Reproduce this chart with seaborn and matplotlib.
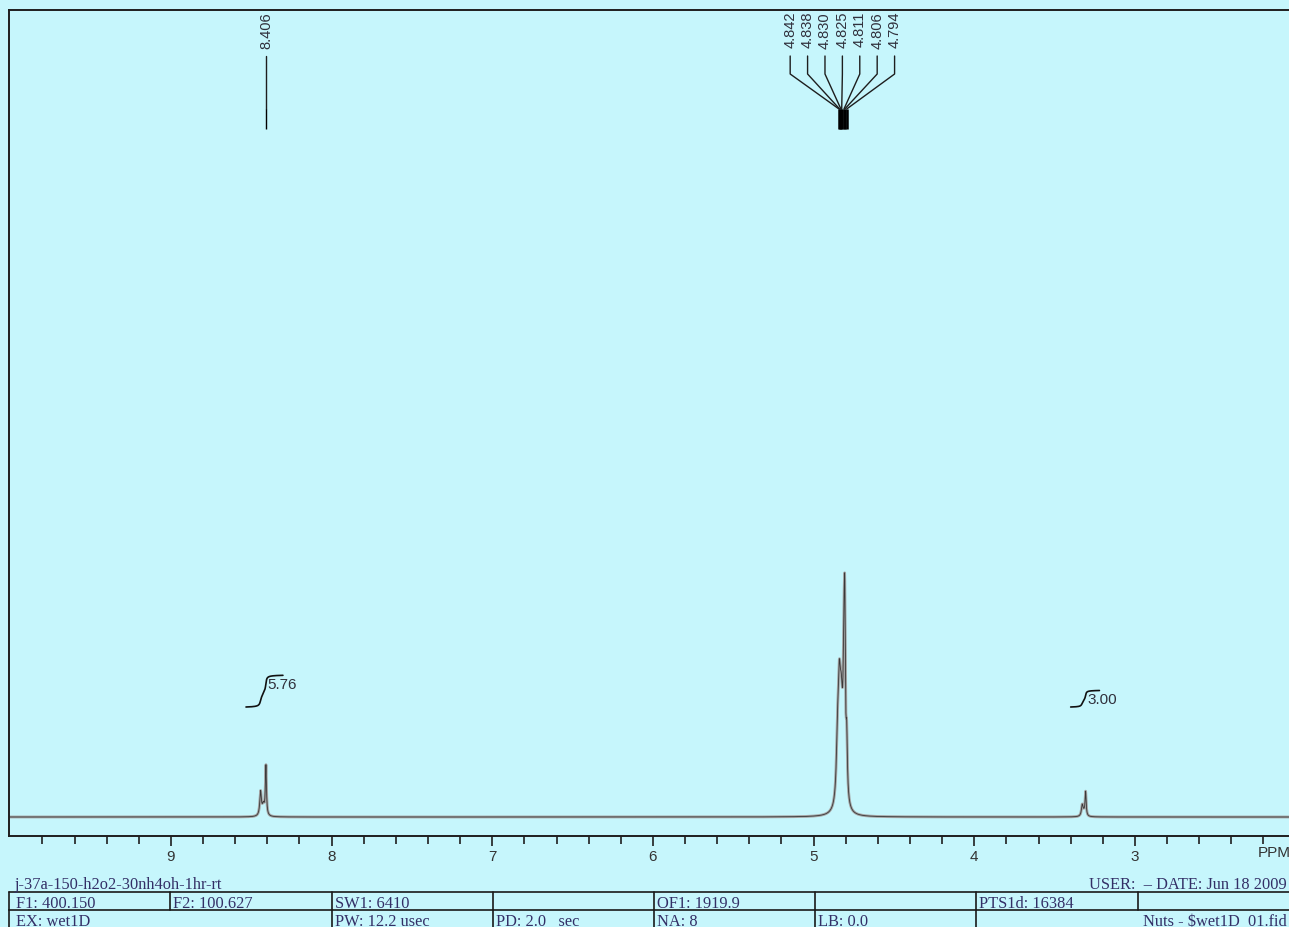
import numpy as np
import pandas as pd
import matplotlib
matplotlib.use("Agg")
import matplotlib.pyplot as plt
import matplotlib.transforms as mtransforms
from matplotlib.lines import Line2D
from matplotlib.ticker import FixedLocator
import seaborn as sns

# ---- acquisition parameters -------------------------------------------------
sample_name = "j-37a-150-h2o2-30nh4oh-1hr-rt"
f1_mhz = 400.150
f2_mhz = 100.627
sw1_hz = 6410
of1_hz = 1919.9
pts1d = 16384
experiment = "wet1D"
pw_usec = 12.2
pd_sec = 2.0
na_scans = 8
lb_hz = 0.0
user_date = "USER:  \u2013 DATE: Jun 18 2009"
file_label = "Nuts - $wet1D_01.fid"

# ---- resolved lines: position (ppm), height (a.u.), half width (ppm) --------
line_ppm = [8.442, 8.425, 8.409,
            4.852, 4.842, 4.838, 4.830, 4.825, 4.811, 4.806, 4.794,
            3.328, 3.318, 3.307]
line_height = [24, 10, 50,
               40, 78, 38, 40, 42, 135, 122, 55,
               11, 3, 24]
line_hwhm = [0.006, 0.008, 0.004,
             0.008, 0.010, 0.008, 0.008, 0.008, 0.007, 0.004, 0.005,
             0.006, 0.008, 0.004]

# ---- picked peaks (one list per label group) --------------------------------
picked_groups = [[8.406],
                 [4.842, 4.838, 4.830, 4.825, 4.811, 4.806, 4.794]]

# ---- integrals ----------------------------------------------------------------
integral_values = [5.76, 3.00]
integral_start = [8.533, 3.40]
integral_end = [8.303, 3.22]

# ---- axis ticks ----------------------------------------------------------------
major_ticks = [9, 8, 7, 6, 5, 4, 3]
minor_ticks = [9.8, 9.6, 9.4, 9.2, 8.8, 8.6, 8.4, 8.2, 7.8, 7.6, 7.4, 7.2,
               6.8, 6.6, 6.4, 6.2, 5.8, 5.6, 5.4, 5.2, 4.8, 4.6, 4.4, 4.2,
               3.8, 3.6, 3.4, 3.2, 2.8, 2.6, 2.4, 2.2]

# ---- build the frequency axis and the spectrum --------------------------------
center_ppm = of1_hz / f1_mhz
sw_ppm = sw1_hz / f1_mhz
ppm = center_ppm + sw_ppm / 2 - np.arange(pts1d) * sw_ppm / pts1d
spec = np.zeros_like(ppm)
for p0, h, w in zip(line_ppm, line_height, line_hwhm):
    spec += h / (1.0 + ((ppm - p0) / w) ** 2)
df = pd.DataFrame({"ppm": ppm, "intensity": spec})

# ---- style -----------------------------------------------------------------------
BG = "#C6F6FC"
INK = "#1e1e1e"
LABEL = "#30303c"
NAVY = "#332f66"
sns.set_theme(style="white")
plt.rcParams["font.family"] = ["Liberation Sans", "DejaVu Sans"]

W, H = 1289, 928
fig = plt.figure(figsize=(W / 100, H / 100), dpi=100, facecolor=BG)


def fx(px):
    return px / W


def fy(px):
    return 1 - px / H


ax = fig.add_axes([fx(9), fy(837), (W - 9) / W, (837 - 11) / H])
ax.set_facecolor(BG)

sns.lineplot(data=df, x="ppm", y="intensity", ax=ax, color="#a4a4a4",
             lw=2.0, estimator=None, sort=False)
sns.lineplot(data=df, x="ppm", y="intensity", ax=ax, color="#383838",
             lw=0.6, estimator=None, sort=False)

ax.set_xlim(10.008, 2.041)
ax.set_ylim(-19, 807)
ax.set_xlabel("")
ax.set_ylabel("")
ax.set_yticks([])

for s in ["top", "left", "bottom"]:
    ax.spines[s].set_color(INK)
    ax.spines[s].set_linewidth(1.4)
ax.spines["right"].set_visible(False)

ax.xaxis.set_major_locator(FixedLocator(major_ticks))
ax.xaxis.set_minor_locator(FixedLocator(minor_ticks))
ax.set_xticklabels([str(t) for t in major_ticks])
ax.tick_params(axis="x", which="major", bottom=True, labelbottom=True,
               direction="out", length=7, width=1.2, color=INK, pad=2.5,
               labelsize=11, labelcolor="#333333")
ax.tick_params(axis="x", which="minor", bottom=True, direction="out",
               length=5.5, width=1.2, color=INK)
fig.text(fx(1258), fy(853), "PPM", ha="left", va="center", fontsize=11,
         color="#333333")

# ---- peak labels with leader lines ---------------------------------------------
trans = mtransforms.blended_transform_factory(ax.transData, fig.transFigure)
label_spacing = 17.4 * (10.008 - 2.041) / (W - 9)
for group in picked_groups:
    n = len(group)
    center = float(np.mean(group))
    for i, p0 in enumerate(group):
        lx = center + ((n - 1) / 2 - i) * label_spacing if n > 1 else p0
        ax.text(lx, fy(12), f"{p0:.3f}", rotation=90, ha="center", va="top",
                transform=trans, fontsize=10.5, color=LABEL)
        ax.plot([lx, lx, p0, p0], [fy(57), fy(75), fy(110), fy(110)],
                transform=trans, color=INK, lw=1.0, clip_on=False)
        ax.plot([p0, p0], [fy(110), fy(130)], transform=trans, color="black",
                lw=1.8 if n > 1 else 1.0, solid_capstyle="butt", clip_on=False)

# ---- integral curves ------------------------------------------------------------
integral_base = 110
integral_scale = 5.5
for val, a, b in zip(integral_values, integral_start, integral_end):
    m = (ppm <= a) & (ppm >= b)
    cum = np.cumsum(spec[m])
    cum = (cum - cum[0]) / (cum[-1] - cum[0])
    yy = integral_base + val * integral_scale * cum
    ax.plot(ppm[m], yy, color="#111111", lw=1.2)
    idx = int(np.argmax(cum >= 0.93))
    ax.text(ppm[m][idx], yy[-1] - 2, f"{val:.2f}", ha="left",
            va="top", fontsize=11, color=LABEL)

# ---- parameter footer ----------------------------------------------------------
serif = dict(family=["Liberation Serif", "DejaVu Serif"], fontsize=11.8,
             color=NAVY)
fig.text(fx(15), fy(889), sample_name, ha="left", va="baseline", **serif)
fig.text(fx(1287), fy(889), user_date, ha="right", va="baseline", **serif)

rule = dict(color="#1a1a1a", lw=1.2, transform=fig.transFigure)
for ypx in (893, 911):
    fig.add_artist(Line2D([fx(9), fx(W)], [fy(ypx), fy(ypx)], **rule))

row1_edges = [9, 170, 331.7, 493.3, 654, 815, 975.7, 1137.7]
row1_text = [f"F1: {f1_mhz:.3f}", f"F2: {f2_mhz:.3f}", f"SW1: {sw1_hz}", "",
             f"OF1: {of1_hz:.1f}", "", f"PTS1d: {pts1d}", ""]
row2_edges = [9, 331.7, 493.3, 654, 815, 975.7]
row2_text = [f"EX: {experiment}", f"PW: {pw_usec:.1f} usec",
             f"PD: {pd_sec:.1f}   sec", f"NA: {na_scans}", f"LB: {lb_hz:.1f}", ""]

for edges, texts, top, bottom, base in ((row1_edges, row1_text, 893, 911, 908.5),
                                        (row2_edges, row2_text, 911, H + 2, 926.5)):
    for x0, t in zip(edges, texts):
        fig.add_artist(Line2D([fx(x0), fx(x0)], [fy(top), fy(bottom)], **rule))
        if t:
            pad = 7 if x0 == 9 else 3
            fig.text(fx(x0 + pad), fy(base), t, ha="left", va="baseline",
                     parse_math=False, **serif)
fig.text(fx(1287), fy(926.5), file_label, ha="right", va="baseline",
         parse_math=False, **serif)

fig.savefig("out.png", dpi=100, facecolor=BG)
